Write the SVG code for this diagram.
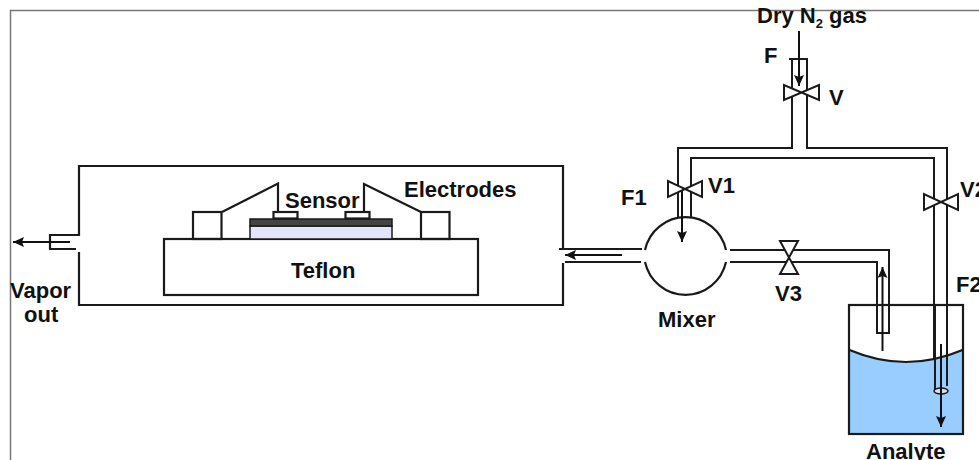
<svg xmlns="http://www.w3.org/2000/svg" width="979" height="460" viewBox="0 0 979 460">
<defs>
<marker id="ah" markerUnits="userSpaceOnUse" markerWidth="12" markerHeight="10" refX="11" refY="5" orient="auto"><path d="M0 0L11 5L0 10L2 5Z" fill="#111"/></marker>
</defs>
<style>
.l{fill:none;stroke:#1a1a1a;stroke-width:2.2}
.t{fill:none;stroke:#1a1a1a;stroke-width:2}
.v{fill:#fff;stroke:#1a1a1a;stroke-width:2}
.a{fill:none;stroke:#111;stroke-width:2;marker-end:url(#ah)}
text{font-family:"Liberation Sans",Arial,sans-serif;font-weight:700;font-size:22px;fill:#111}
</style>
<rect width="979" height="460" fill="#fff"/>
<path d="M10.500 460V10.500H979" fill="none" stroke="#777" stroke-width="1.500"/>
<g id="chamber">
<path class="l" d="M76 235H79V166H563V249M563 263V305H79V252"/>
<path class="l" d="M79 235H50V249H76"/>
</g>
<g id="teflon"><rect class="l" x="164" y="239" width="314" height="56"/><text x="291" y="278">Teflon</text></g>
<g id="sensor">
<rect x="250" y="226" width="142" height="13" fill="#e4e4fb" stroke="#1a1a1a" stroke-width="1.500"/>
<rect x="250" y="219" width="142" height="7" fill="#444" stroke="#1a1a1a" stroke-width="1.500"/>
<text x="285" y="208">Sensor</text>
</g>
<g id="electrodes">
<rect class="l" x="193" y="212" width="28.500" height="27"/>
<rect class="l" x="421" y="212" width="28.500" height="27"/>
<rect class="l" x="273.500" y="212" width="24" height="6.500"/>
<rect class="l" x="345.500" y="212" width="24" height="6.500"/>
<path class="l" d="M222 212L278 183.500V212M364 212V184L421 212"/>
<text x="404" y="197">Electrodes</text>
</g>
<g id="mixer">
<path class="l" d="M645 250A41.500 42 0 0 1 726 250M726 262A41.500 42 0 0 1 645 262"/>
<text x="658" y="327">Mixer</text>
</g>
<g id="connectors">
<path class="t" d="M559 249H642M565 262H641"/>
<path class="t" d="M730 250H889V333H876M730 262H877V333"/>
<path class="t" d="M789 59H807V148H947V386M792 59V148H678V217M691 217V158H934V391M682 190V217"/>
<path class="a" d="M70 242H13"/>
<path class="a" d="M622 255H565"/>
<path class="a" d="M799 31V86"/>
<path class="a" d="M682 190V242"/>
<path class="a" d="M882.500 351V267"/>
</g>
<g id="valve-v"><path class="v" d="M784 85V100L819 85V100Z"/><text x="829" y="105">V</text><text x="764" y="63">F</text></g>
<g id="valve-v1"><path class="v" d="M668 181V197L702 181V197Z"/><text x="708" y="193">V1</text><text x="621" y="205">F1</text></g>
<g id="valve-v2"><path class="v" d="M924 194V210L958 194V210Z"/><text x="960" y="197">V2</text></g>
<g id="valve-v3"><path class="v" d="M780 241H798L780 274H798Z"/><text x="775" y="301">V3</text></g>
<g id="analyte">
<path d="M850 351Q906 372 962 351V433.500H850Z" fill="#99ccff" stroke="none"/>
<path class="l" d="M849.500 350Q906 374 962.500 350"/>
<rect class="l" x="849" y="305" width="114" height="129"/>
<path class="t" d="M935 305V391M947 305V386"/>
<ellipse cx="941" cy="391" rx="7" ry="3" fill="#dde" stroke="#1a1a1a" stroke-width="1.500"/>
<path class="a" d="M941 344V427"/>
<text x="866" y="459">Analyte</text>
<text x="956" y="292">F2</text>
</g>
<g id="labels">
<text x="757" y="23">Dry N<tspan font-size="13" dy="5">2</tspan><tspan dy="-5"> gas</tspan></text>
<text x="10" y="298">Vapor</text>
<text x="24" y="322">out</text>
</g>
</svg>
